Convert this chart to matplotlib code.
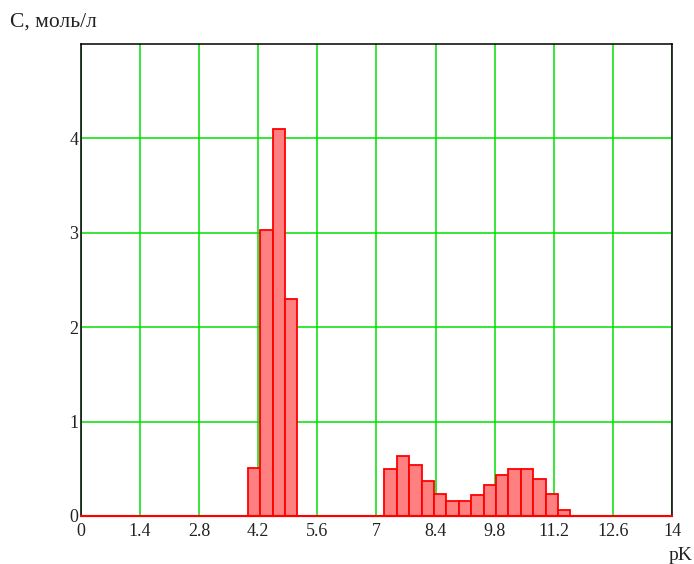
import matplotlib
matplotlib.use("Agg")
import matplotlib.pyplot as plt
import numpy as np

bin_width = 0.294
centers = [4.097, 4.391, 4.685, 4.979,
           7.331, 7.625, 7.919, 8.213, 8.507, 8.801, 9.095, 9.389,
           9.683, 9.977, 10.271, 10.565, 10.859, 11.153, 11.447]
values = [0.51, 3.03, 4.10, 2.30,
          0.495, 0.64, 0.544, 0.375, 0.237, 0.159, 0.159, 0.223,
          0.329, 0.438, 0.495, 0.495, 0.389, 0.237, 0.067]
xticks = [0, 1.4, 2.8, 4.2, 5.6, 7, 8.4, 9.8, 11.2, 12.6, 14]
xticklabels = ["0", "1.4", "2.8", "4.2", "5.6", "7", "8.4", "9.8", "11.2", "12.6", "14"]
yticks = [0, 1, 2, 3, 4]

plt.rcParams['font.family'] = ['Liberation Serif', 'DejaVu Serif']

fig = plt.figure(figsize=(6.94, 5.64), dpi=100)
ax = fig.add_axes([81/694, 48/564, (672-81)/694, (516-44)/564])

ax.set_xlim(0, 14)
ax.set_ylim(0, 5)
ax.set_xticks(xticks)
ax.set_xticklabels(xticklabels)
ax.set_yticks(yticks)
ax.grid(True, color='#00e000', linewidth=1.1)
ax.set_axisbelow(True)
ax.tick_params(length=0, labelsize=13, colors='#222222')
ax.tick_params(axis='x', pad=5)
ax.tick_params(axis='y', pad=2)

ax.bar(centers, values, width=bin_width, color='#ff8080', edgecolor='#ff0000',
       linewidth=1.3, zorder=3)
ax.axhline(0, color='#ff0000', linewidth=1.5, zorder=4, clip_on=False)

for s in ['left', 'top', 'right']:
    ax.spines[s].set_color('black')
    ax.spines[s].set_linewidth(1.1)
ax.spines['bottom'].set_color('#ff0000')

fig.text(10/694, 1 - 22/564, "C, моль/л", fontsize=15.5, ha='left', va='center', color='#222222')
fig.text(681/694, 1 - 555/564, "pK", fontsize=14, ha='center', va='center', color='#222222')

fig.savefig("out.png", dpi=100)
